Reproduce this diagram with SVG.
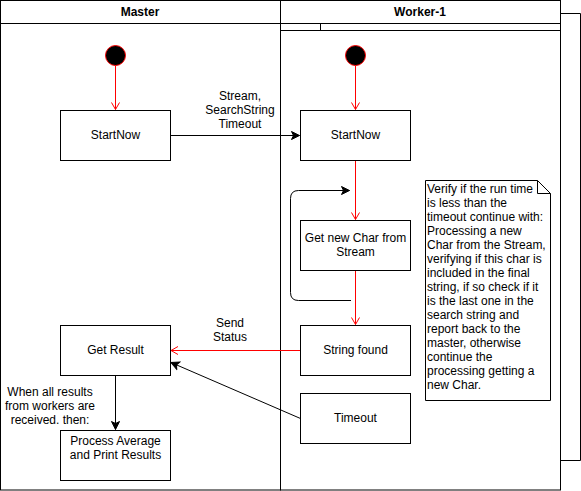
<svg xmlns="http://www.w3.org/2000/svg" width="581" height="491" viewBox="0 0 581 491">
<style>
text{font-family:"Liberation Sans",Arial,sans-serif;font-size:12px;fill:#000}
.c{text-anchor:middle}
.h{font-weight:bold}
.box{fill:#fff;stroke:#000;stroke-width:1}
.ln{fill:none;stroke:#000;stroke-width:1}
.red{fill:none;stroke:#ff0000;stroke-width:1}
</style>
<defs>
<marker id="open" markerWidth="10" markerHeight="10" refX="8" refY="5" orient="auto" markerUnits="userSpaceOnUse">
<path d="M1,1 L8,5 L1,9" fill="none" stroke="#ff0000" stroke-width="1"/>
</marker>
<marker id="fill" markerWidth="12" markerHeight="12" refX="9" refY="6" orient="auto" markerUnits="userSpaceOnUse">
<path d="M1,2 L9,6 L1,10 L3,6 Z" fill="#000" stroke="#000" stroke-width="1"/>
</marker>
</defs>
<rect width="581" height="491" fill="#fff"/>
<g id="lanes">
<path class="ln" d="M560.5,13.5 H580.5 V460.5 H560.5"/>
<rect class="box" x="0.5" y="0.5" width="280" height="489.5"/>
<line class="ln" x1="0.5" y1="23.5" x2="280.5" y2="23.5"/>
<text class="c h" x="140" y="16">Master</text>
<rect class="box" x="280.5" y="0.5" width="280" height="489.5"/>
<line class="ln" x1="280.5" y1="23.5" x2="560.5" y2="23.5"/>
<line class="ln" x1="280.5" y1="30.5" x2="560.5" y2="30.5"/>
<line class="ln" x1="320.5" y1="23.5" x2="320.5" y2="30.5"/>
<text class="c h" x="420" y="16">Worker-1</text>
</g>
<g id="connectors">
<line class="red" x1="115.5" y1="66" x2="115.5" y2="109.5" marker-end="url(#open)"/>
<line class="red" x1="355.5" y1="66" x2="355.5" y2="109.5" marker-end="url(#open)"/>
<line class="ln" x1="170.5" y1="135.5" x2="299.5" y2="135.5" marker-end="url(#fill)"/>
<text class="c" x="240" y="100">Stream,</text>
<text class="c" x="240" y="114">SearchString</text>
<text class="c" x="240" y="128">Timeout</text>
<line class="red" x1="355.5" y1="160.5" x2="355.5" y2="219.5" marker-end="url(#open)"/>
<path class="ln" d="M351,300.5 H298.5 Q290.5,300.5 290.5,292.5 V198.5 Q290.5,190.5 298.5,190.5 H349.5" marker-end="url(#fill)"/>
<line class="red" x1="355.5" y1="270.5" x2="355.5" y2="324.5" marker-end="url(#open)"/>
<line class="red" x1="300.5" y1="350.5" x2="171" y2="350.5" marker-end="url(#open)"/>
<text class="c" x="230" y="327">Send</text>
<text class="c" x="230" y="341">Status</text>
<line class="ln" x1="300.5" y1="418.5" x2="171" y2="362.5" marker-end="url(#fill)"/>
<line class="ln" x1="115.5" y1="375.5" x2="115.5" y2="429.5" marker-end="url(#fill)"/>
<text class="c" x="50" y="396">When all results</text>
<text class="c" x="50" y="410">from workers are</text>
<text class="c" x="50" y="424">received. then:</text>
</g>
<g id="start-master">
<circle cx="115.5" cy="55.5" r="10" fill="#000" stroke="#ff0000" stroke-width="1"/>
</g>
<g id="start-worker">
<circle cx="355.5" cy="55.5" r="10" fill="#000" stroke="#ff0000" stroke-width="1"/>
</g>
<g id="startnow-master">
<rect class="box" x="60.5" y="110.5" width="110" height="50"/>
<text class="c" x="115.5" y="139">StartNow</text>
</g>
<g id="startnow-worker">
<rect class="box" x="300.5" y="110.5" width="110" height="50"/>
<text class="c" x="355.5" y="139">StartNow</text>
</g>
<g id="getchar">
<rect class="box" x="300.5" y="220.5" width="110" height="50"/>
<text class="c" x="355.5" y="242">Get new Char from</text>
<text class="c" x="355.5" y="256">Stream</text>
</g>
<g id="stringfound">
<rect class="box" x="300.5" y="325.5" width="110" height="50"/>
<text class="c" x="355.5" y="354">String found</text>
</g>
<g id="timeout">
<rect class="box" x="300.5" y="393.5" width="110" height="50"/>
<text class="c" x="355.5" y="422">Timeout</text>
</g>
<g id="getresult">
<rect class="box" x="60.5" y="325.5" width="110" height="50"/>
<text class="c" x="115.5" y="354">Get Result</text>
</g>
<g id="process">
<rect class="box" x="60.5" y="430.5" width="110" height="50"/>
<text class="c" x="115.5" y="445">Process Average</text>
<text class="c" x="115.5" y="459">and Print Results</text>
</g>
<g id="note">
<path class="box" d="M425.5,180.5 H537.5 L550.5,193.5 V400.5 H425.5 Z"/>
<path class="ln" d="M537.5,180.5 V193.5 H550.5"/>
<text x="427" y="193">Verify if the run time</text>
<text x="427" y="207">is less than the</text>
<text x="427" y="221">timeout continue with:</text>
<text x="427" y="235">Processing a new</text>
<text x="427" y="249">Char from the Stream,</text>
<text x="427" y="263">verifying if this char is</text>
<text x="427" y="277">included in the final</text>
<text x="427" y="291">string, if so check if it</text>
<text x="427" y="305">is the last one in the</text>
<text x="427" y="319">search string and</text>
<text x="427" y="333">report back to the</text>
<text x="427" y="347">master, otherwise</text>
<text x="427" y="361">continue the</text>
<text x="427" y="375">processing getting a</text>
<text x="427" y="389">new Char.</text>
</g>
</svg>
